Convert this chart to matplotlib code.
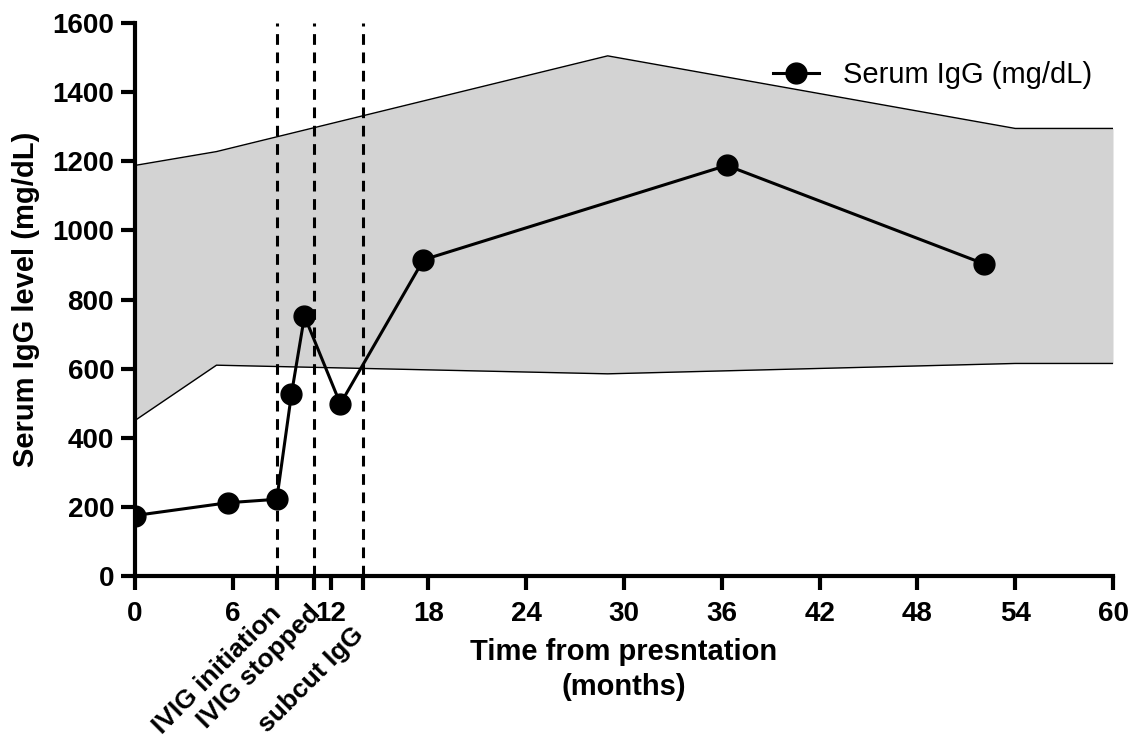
import numpy as np
import matplotlib.pyplot as plt
from matplotlib.transforms import ScaledTranslation

plt.rcParams['font.family'] = ['Liberation Sans', 'DejaVu Sans']

# patient serum IgG
months = [0, 5.7, 8.7, 9.6, 10.4, 12.6, 17.7, 36.3, 52.1]
igg = [175, 212, 222, 526, 752, 498, 915, 1188, 903]

# age-related reference range
ref_months = [0, 5, 29, 54, 60]
ref_low = [450, 610, 585, 615, 615]
ref_high = [1188, 1228, 1505, 1295, 1295]

events = [8.7, 11, 14]
event_names = ["IVIG initiation", "IVIG stopped", "subcut IgG"]
reg_ticks = [0, 6, 12, 18, 24, 30, 36, 42, 48, 54, 60]

fig = plt.figure(figsize=(11.34, 7.38), dpi=100)
ax = fig.add_axes([0.119, 0.2195, 0.8625, 0.7493])

ax.fill_between(ref_months, ref_low, ref_high, color='#d3d3d3', lw=0, zorder=1)
ax.plot(ref_months, ref_low, color='black', lw=1, zorder=2)
ax.plot(ref_months, ref_high, color='black', lw=1, zorder=2)

for e in events:
    ax.axvline(e, color='black', ls=(0, (3.5, 2.5)), lw=2.2, zorder=3)

ax.plot(months, igg, color='black', lw=2.2, marker='o', markersize=15,
        label="Serum IgG (mg/dL)", zorder=4)

ax.set_xlim(0, 60)
ax.set_ylim(0, 1600)
ax.set_yticks(np.arange(0, 1601, 200))

for s in ['top', 'right']:
    ax.spines[s].set_visible(False)
for s in ['left', 'bottom']:
    ax.spines[s].set_linewidth(3)
ax.tick_params(width=3, length=10, direction='out')
ax.tick_params(axis='x', pad=8)
ax.tick_params(axis='y', pad=5)

ticks = reg_ticks + events
labels = [str(t) for t in reg_ticks] + event_names
ax.set_xticks(ticks)
ax.set_xticklabels(labels)
# nudge the rotated event labels (offsets in pixels at 100 dpi)
nudge = {"IVIG initiation": (-8, 0), "IVIG stopped": (-6, 0), "subcut IgG": (-12, -22)}
for lab in ax.get_xticklabels():
    lab.set_fontweight('bold')
    lab.set_fontsize(20)
    if lab.get_text() in event_names:
        lab.set_rotation(45)
        lab.set_ha('right')
        lab.set_va('top')
        lab.set_rotation_mode('anchor')
        lab.set_fontsize(19)
        dx, dy = nudge[lab.get_text()]
        lab.set_transform(lab.get_transform() +
                          ScaledTranslation(dx / 100, dy / 100, fig.dpi_scale_trans))
for lab in ax.get_yticklabels():
    lab.set_fontweight('bold')
    lab.set_fontsize(20)

ax.set_xlabel("Time from presntation\n(months)", fontsize=21, fontweight='bold',
              linespacing=1.3)
ax.xaxis.set_label_coords(0.5, -0.112)
ax.set_ylabel("Serum IgG level (mg/dL)", fontsize=21, fontweight='bold')
ax.yaxis.set_label_coords(-0.097, 0.5)

leg = ax.legend(loc='upper right', bbox_to_anchor=(1.005, 0.978), frameon=False,
                fontsize=21, handlelength=1.6, handletextpad=0.8)

fig.savefig('out.png', dpi=100)
